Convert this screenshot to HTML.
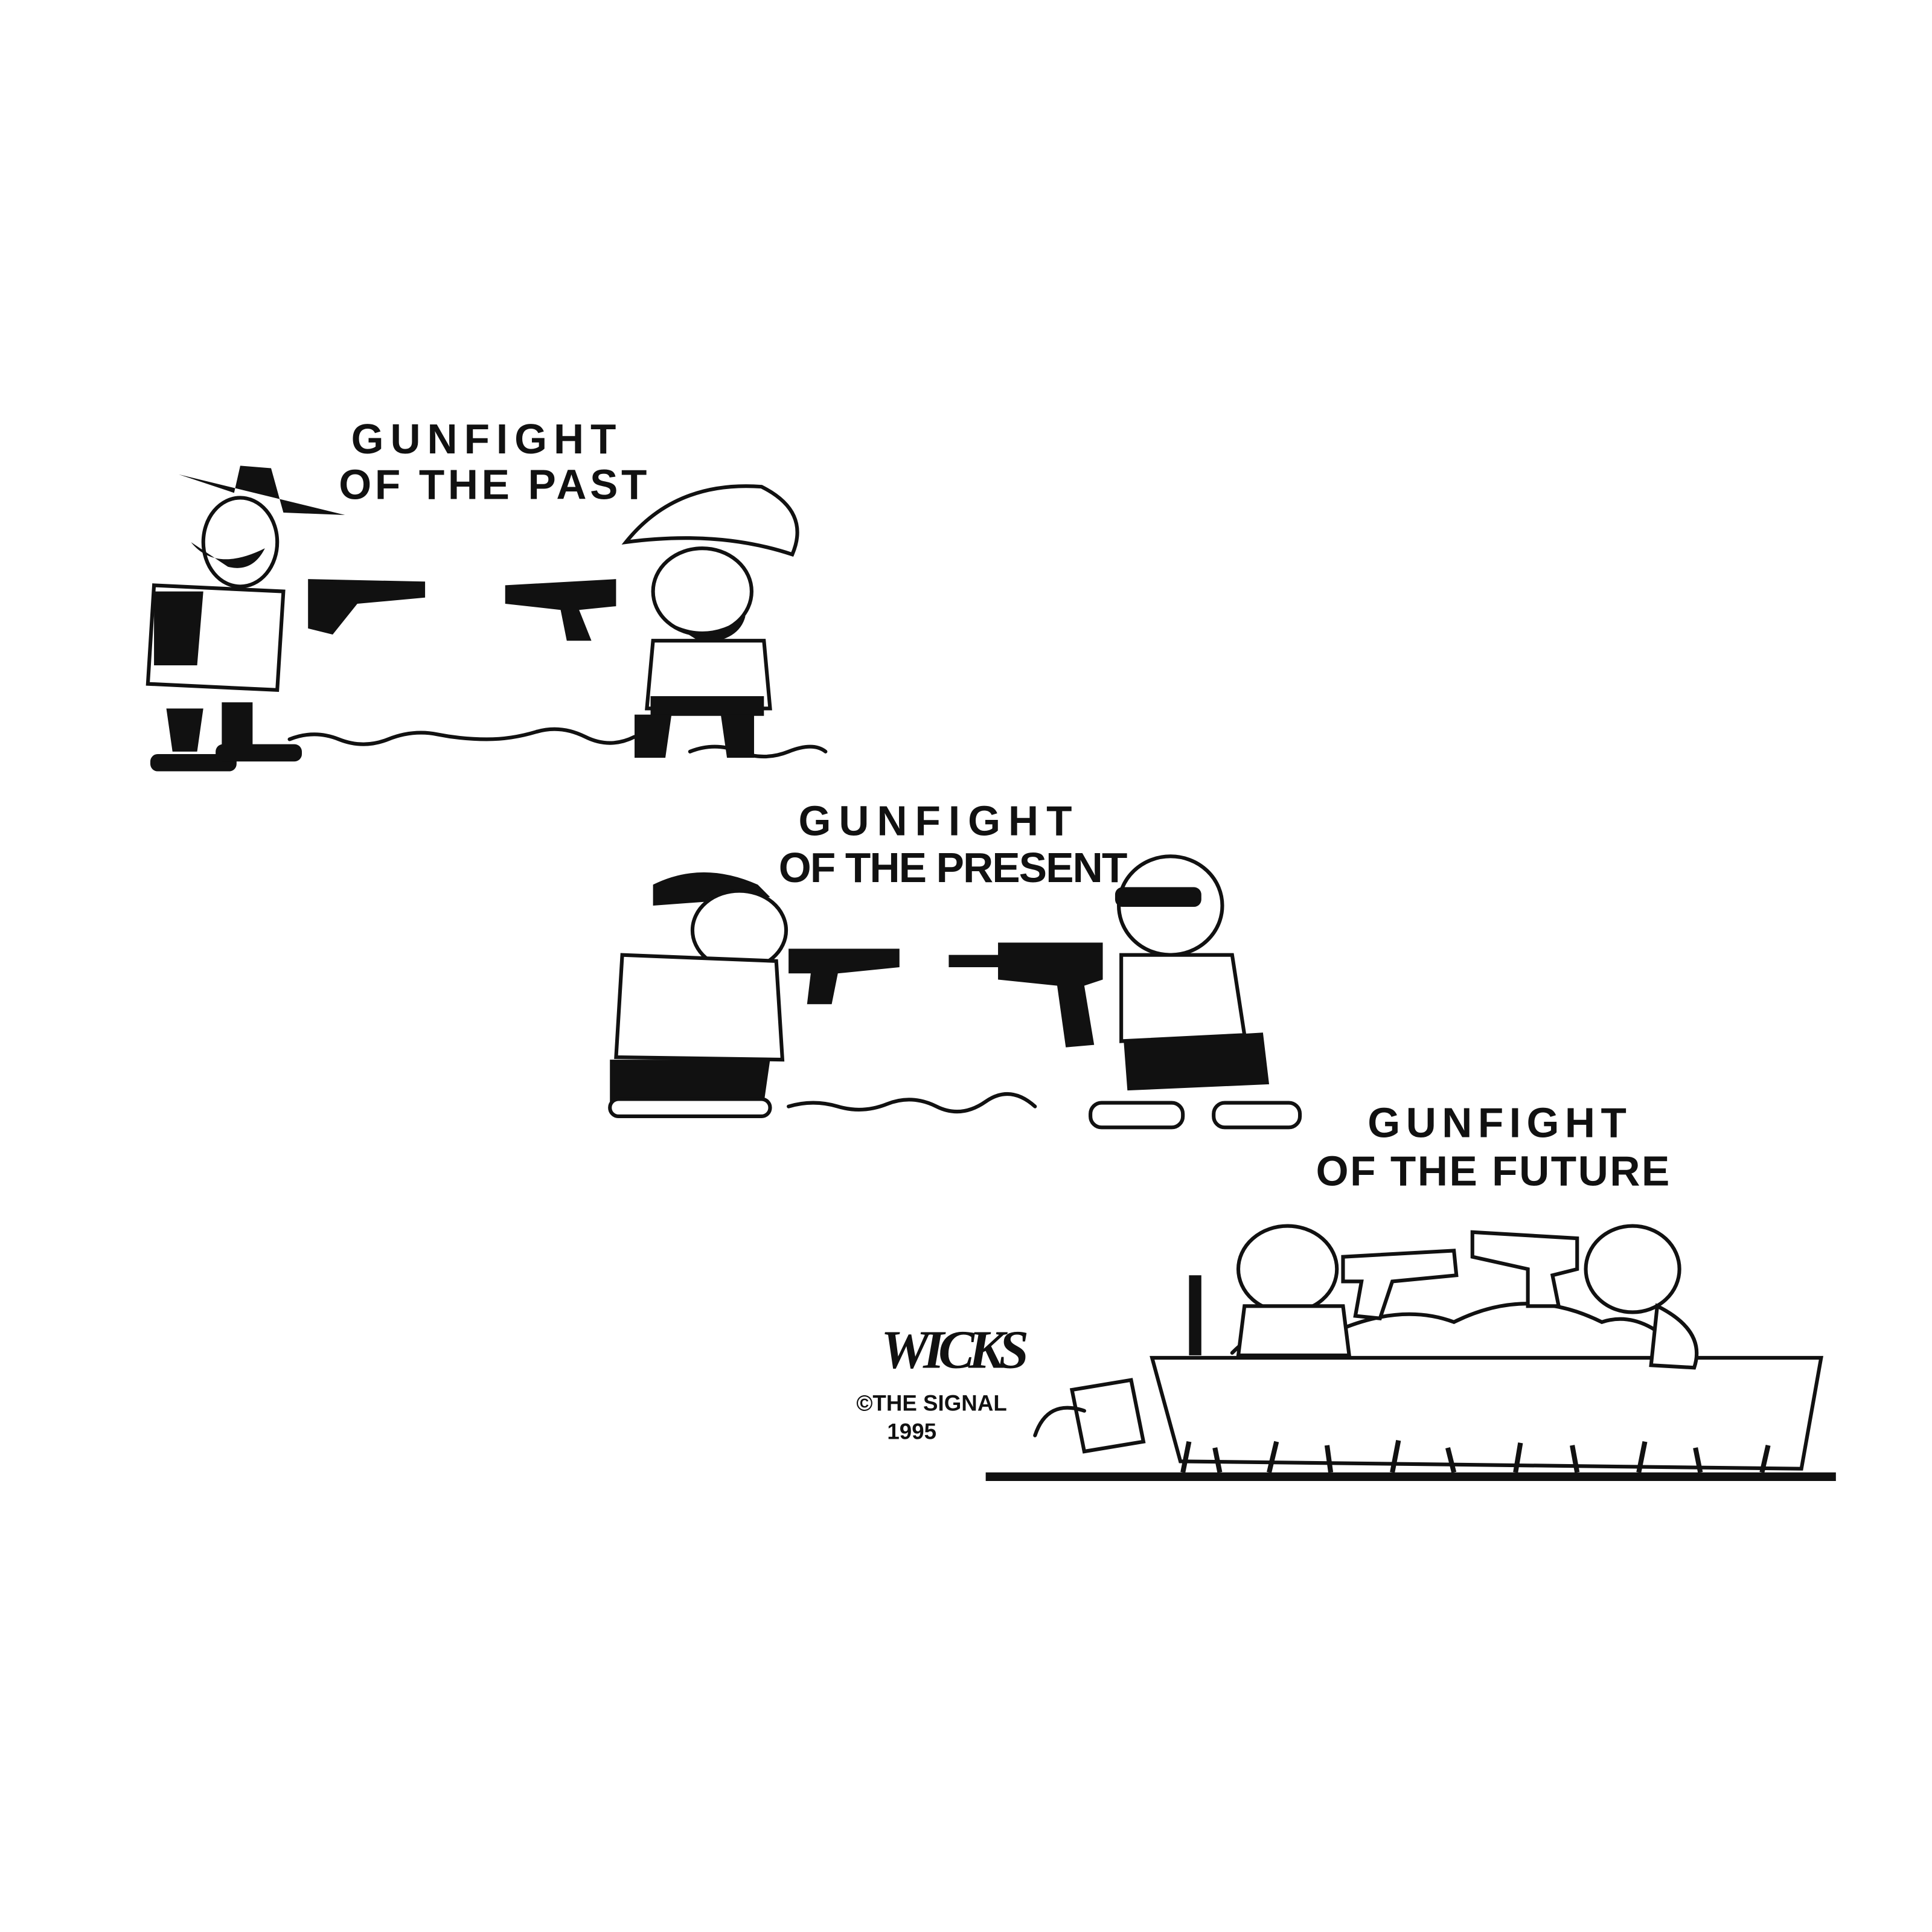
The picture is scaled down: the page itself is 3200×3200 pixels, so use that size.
<!DOCTYPE html>
<html><head><meta charset="utf-8"><style>
html,body{margin:0;padding:0;background:#fff;}
svg{display:block}
text{font-family:"Liberation Sans",sans-serif;font-weight:bold;fill:#111}
</style></head><body>
<svg width="3200" height="3200" viewBox="0 0 1568 1568" xmlns="http://www.w3.org/2000/svg">
<rect width="1568" height="1568" fill="#fff"/>
<!-- Titles -->
<text x="285" y="368" font-size="34" textLength="215">GUNFIGHT</text>
<text x="275" y="405" font-size="34" textLength="250">OF THE PAST</text>
<text x="648" y="678" font-size="34" textLength="222">GUNFIGHT</text>
<text x="632" y="716" font-size="34" textLength="283">OF THE PRESENT</text>
<text x="1110" y="923" font-size="34" textLength="210">GUNFIGHT</text>
<text x="1068" y="962" font-size="34" textLength="287">OF THE FUTURE</text>

<g fill="none" stroke="#111" stroke-width="3" stroke-linecap="round">
<!-- past ground -->
<path d="M235 600 q20 -8 40 0 t40 0 t40 -4 t40 4 t40 -6 t40 4 t40 0"/>
<path d="M560 610 q20 -8 40 0 t40 0 t30 0"/>
<!-- present ground -->
<path d="M640 898 q20 -6 40 0 t40 -2 t40 2 t40 -4 t40 4"/>
<!-- sandbox -->
<path d="M935 1102 L1478 1102 L1462 1192 L958 1186 Z"/>
<path d="M1000 1098 q40 -40 90 -20 q50 -20 90 -5 q60 -30 120 0 q30 -10 60 20"/>
<!-- bucket -->
<path d="M870 1128 L918 1120 L928 1170 L880 1178 Z"/>
<path d="M840 1165 q10 -30 40 -20"/>
</g>
<!-- ground line future -->
<path d="M800 1195 L1490 1195 L1490 1202 L800 1202 Z" fill="#111"/>
<g stroke="#111" stroke-width="4">
<path d="M960 1195 l5 -25 M990 1195 l-4 -20 M1030 1195 l6 -25 M1080 1195 l-3 -22 M1130 1195 l5 -26 M1180 1195 l-5 -20 M1230 1195 l4 -24 M1280 1195 l-4 -22 M1330 1195 l5 -25 M1380 1195 l-4 -20 M1430 1195 l5 -22"/>
</g>

<!-- Past: cowboy left -->
<g fill="#111">
<path d="M145 385 L280 418 L230 416 L220 380 L195 378 L190 400 Z"/>
<ellipse cx="195" cy="440" rx="30" ry="36" fill="#fff" stroke="#111" stroke-width="3"/>
<path d="M155 440 q20 25 60 5 q-10 20 -30 15 z"/>
<path d="M125 475 L230 480 L225 560 L120 555 Z" fill="#fff" stroke="#111" stroke-width="3"/>
<path d="M125 480 L165 480 L160 540 L125 540 Z"/>
<path d="M135 575 L165 575 L160 610 L140 610 Z"/>
<path d="M180 570 L205 570 L205 605 L180 605 Z"/>
<rect x="122" y="612" width="70" height="14" rx="6"/>
<rect x="175" y="604" width="70" height="14" rx="6"/>
<path d="M250 470 L345 472 L345 485 L290 490 L270 515 L250 510 Z"/>
<!-- cowboy right -->
<path d="M508 440 q40 -50 110 -45 q40 20 25 55 q-60 -20 -135 -10 z" fill="#fff" stroke="#111" stroke-width="3"/>
<ellipse cx="570" cy="480" rx="40" ry="35" fill="#fff" stroke="#111" stroke-width="3"/>
<path d="M535 500 q35 25 70 0 q-5 20 -35 22 z"/>
<path d="M530 520 L620 520 L625 575 L525 575 Z" fill="#fff" stroke="#111" stroke-width="3"/>
<rect x="528" y="565" width="92" height="16"/>
<path d="M515 580 L545 580 L540 615 L515 615 Z"/>
<path d="M585 580 L612 580 L612 615 L590 615 Z"/>
<path d="M410 475 L500 470 L500 492 L470 495 L480 520 L460 520 L455 495 L410 490 Z"/>

<!-- Present left -->
<path d="M530 718 q40 -20 85 0 l10 10 L530 735 Z"/>
<ellipse cx="600" cy="755" rx="38" ry="32" fill="#fff" stroke="#111" stroke-width="3"/>
<path d="M505 775 L630 780 L635 860 L500 858 Z" fill="#fff" stroke="#111" stroke-width="3"/>
<path d="M495 860 L625 860 L620 895 L495 895 Z"/>
<rect x="495" y="892" width="130" height="14" rx="7" fill="#fff" stroke="#111" stroke-width="3"/>
<path d="M640 770 L730 770 L730 785 L680 790 L675 815 L655 815 L658 790 L640 790 Z"/>
<!-- Present right -->
<ellipse cx="950" cy="735" rx="42" ry="40" fill="#fff" stroke="#111" stroke-width="3"/>
<rect x="905" y="720" width="70" height="16" rx="6"/>
<path d="M910 775 L1000 775 L1010 840 L910 845 Z" fill="#fff" stroke="#111" stroke-width="3"/>
<path d="M912 845 L1025 838 L1030 880 L915 885 Z"/>
<rect x="885" y="895" width="75" height="20" rx="9" fill="#fff" stroke="#111" stroke-width="3"/>
<rect x="985" y="895" width="70" height="20" rx="9" fill="#fff" stroke="#111" stroke-width="3"/>
<path d="M770 775 L810 775 L810 765 L895 765 L895 795 L880 800 L888 848 L865 850 L858 800 L810 795 L810 785 L770 785 Z"/>

<!-- Future kids -->
<ellipse cx="1045" cy="1030" rx="40" ry="35" fill="#fff" stroke="#111" stroke-width="3"/>
<path d="M1010 1060 L1090 1060 L1095 1100 L1005 1100 Z" fill="#fff" stroke="#111" stroke-width="3"/>
<path d="M1090 1020 L1180 1015 L1182 1035 L1130 1040 L1120 1070 L1100 1068 L1105 1040 L1090 1040 Z" fill="#fff" stroke="#111" stroke-width="3"/>
<ellipse cx="1325" cy="1030" rx="38" ry="35" fill="#fff" stroke="#111" stroke-width="3"/>
<path d="M1345 1060 q40 20 30 50 L1340 1108 Z" fill="#fff" stroke="#111" stroke-width="3"/>
<path d="M1195 1000 L1280 1005 L1280 1030 L1260 1035 L1265 1060 L1240 1060 L1240 1030 L1195 1020 Z" fill="#fff" stroke="#111" stroke-width="3"/>
<path d="M965 1035 L975 1035 L975 1100 L965 1100 Z"/>
</g>

<!-- signature -->
<text x="715" y="1110" font-size="44" font-style="italic" textLength="120" style="font-family:'Liberation Serif',serif">WICKS</text>
<text x="695" y="1145" font-size="18" font-weight="normal">©THE SIGNAL</text>
<text x="720" y="1168" font-size="18" font-weight="normal">1995</text>
</svg>
</body></html>
